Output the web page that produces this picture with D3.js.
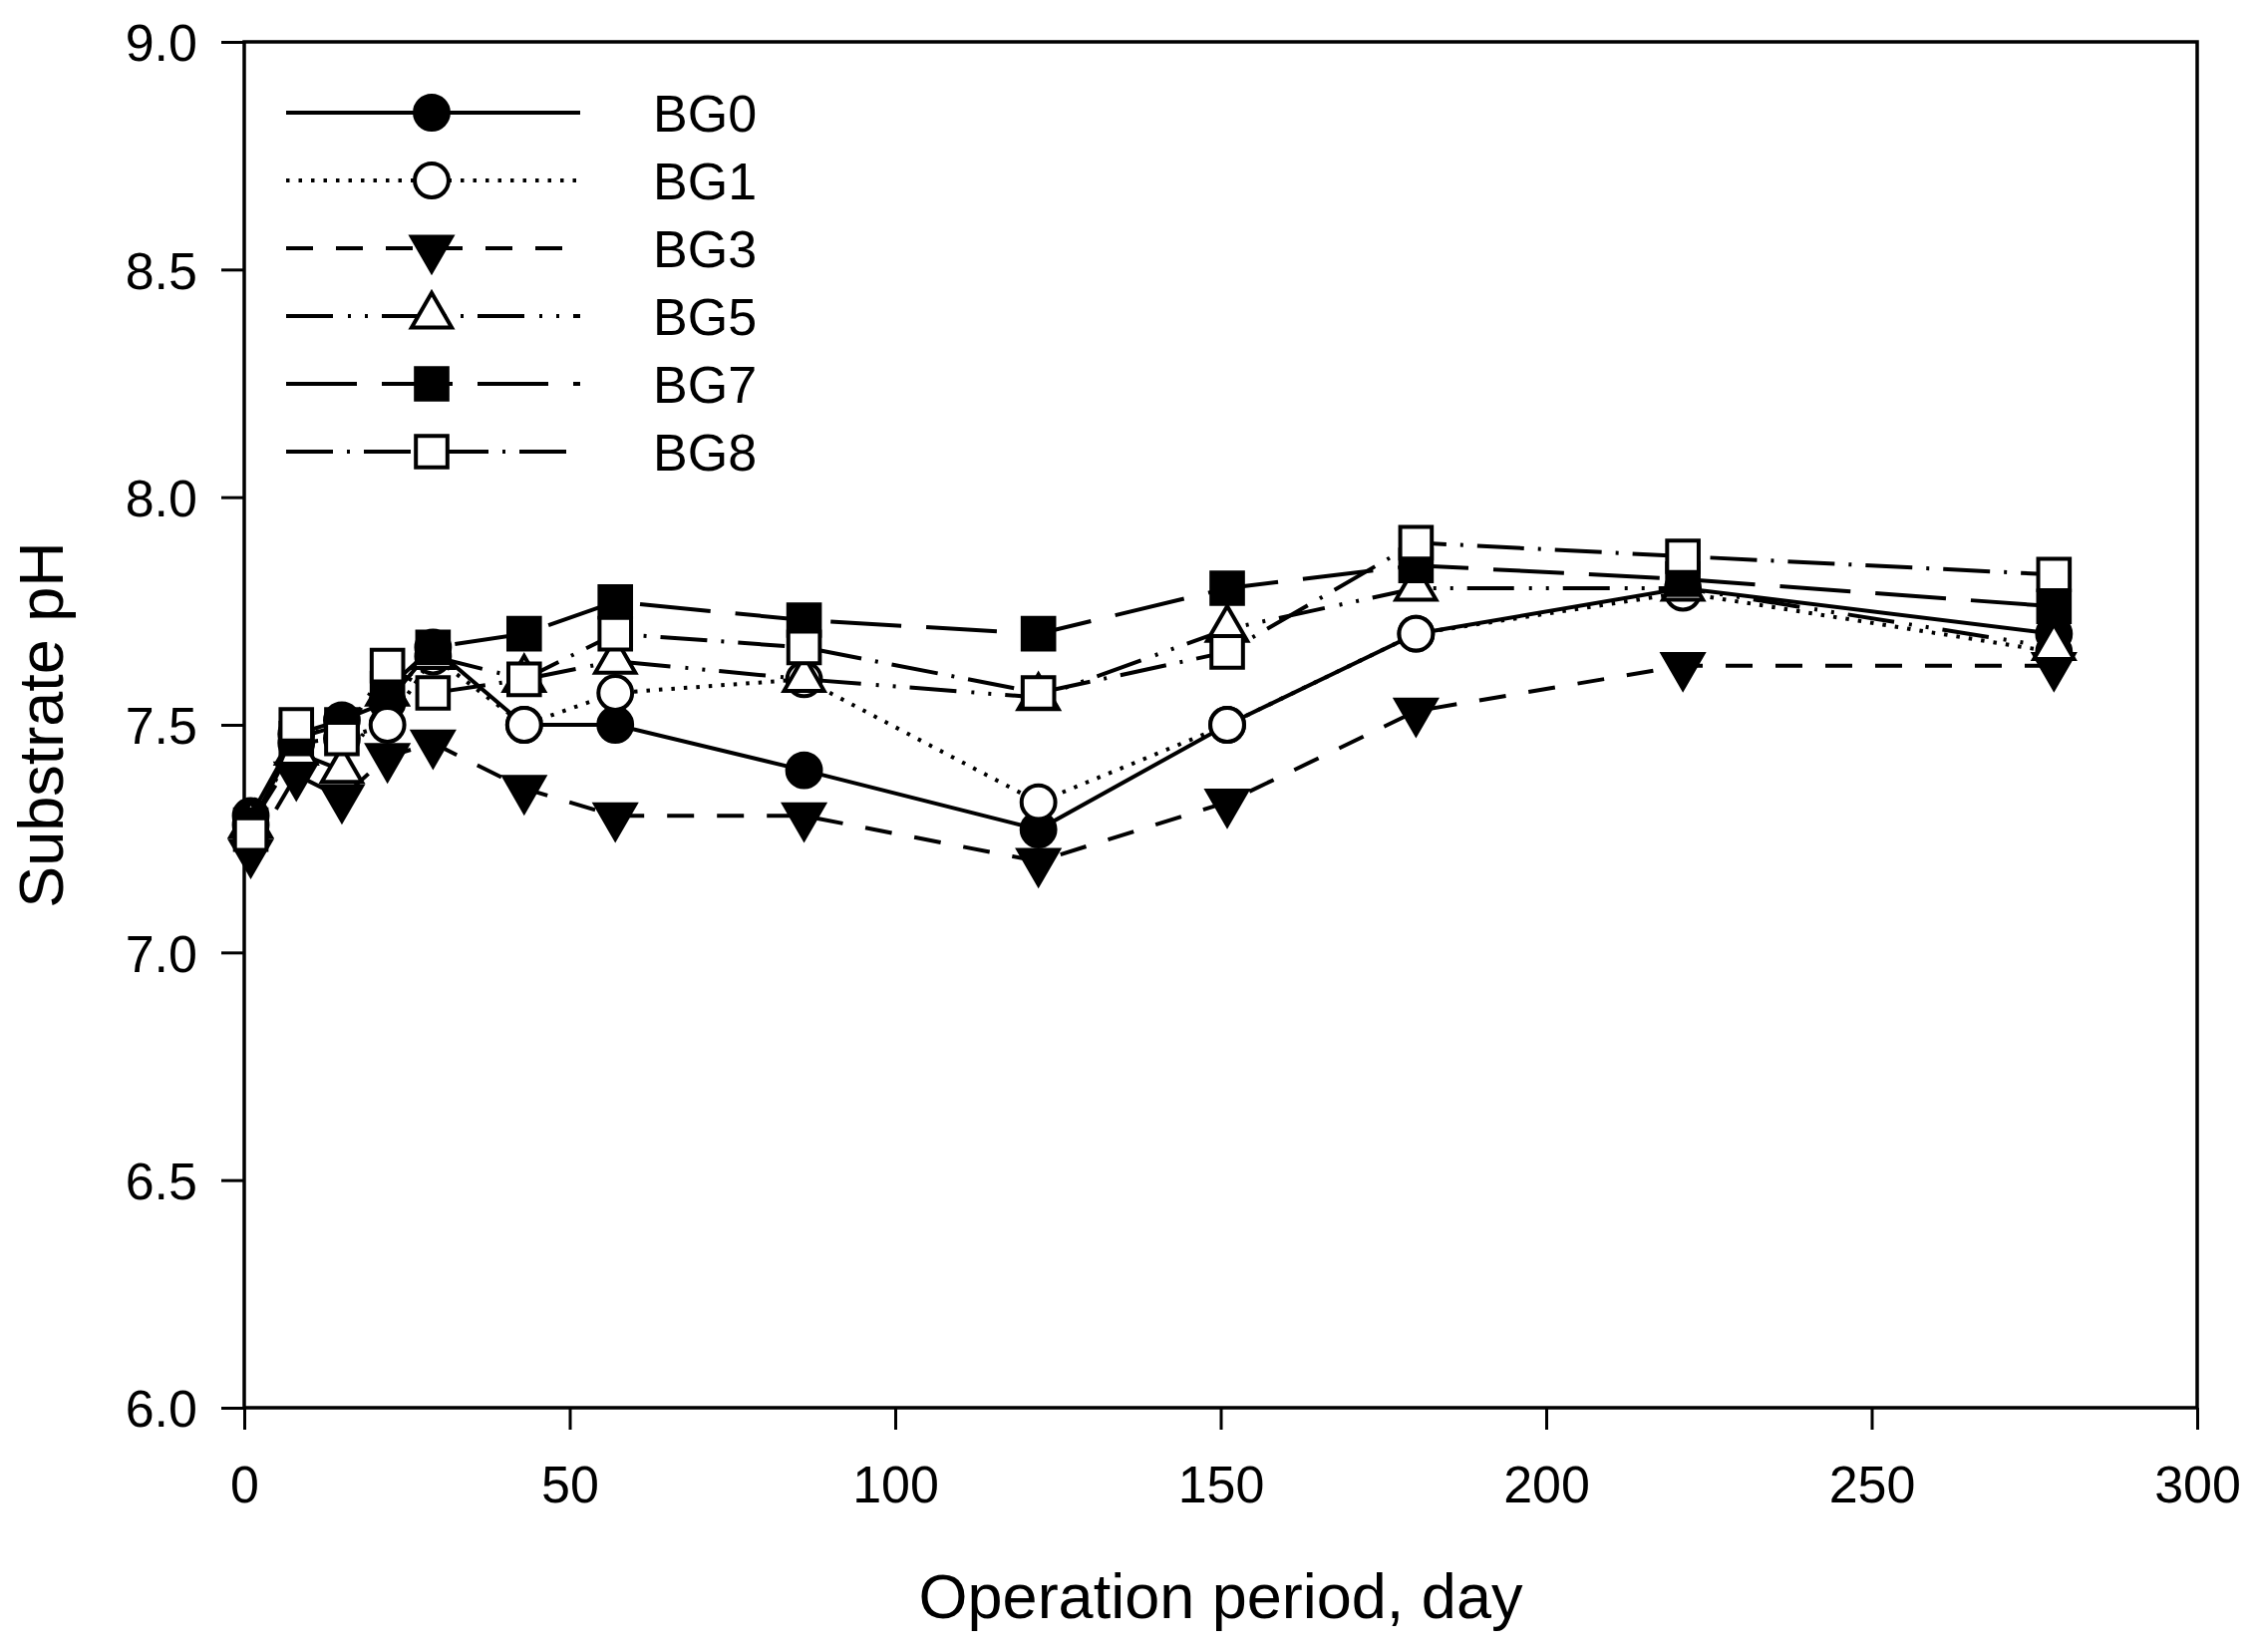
<!DOCTYPE html>
<html>
<head>
<meta charset="utf-8">
<script src="https://cdn.jsdelivr.net/npm/d3@7"></script>
<style>
  body { margin: 0; background: #fff; }
  text { font-family: "Liberation Sans", Arial, sans-serif; fill: #000; }
</style>
</head>
<body>
<svg id="chart" width="2259" height="1657"></svg>
<script>
// operation day of each sampling
var days = [1, 8, 15, 22, 29, 43, 57, 86, 122, 151, 180, 221, 278];

// substrate pH per bed
var bg0 = [7.30, 7.48, 7.51, 7.55, 7.67, 7.50, 7.50, 7.40, 7.27, 7.50, 7.70, 7.80, 7.70];
var bg1 = [7.28, 7.46, 7.47, 7.50, 7.65, 7.50, 7.57, 7.60, 7.33, 7.50, 7.70, 7.79, 7.66];
var bg3 = [7.22, 7.39, 7.34, 7.43, 7.46, 7.36, 7.30, 7.30, 7.20, 7.33, 7.53, 7.63, 7.63];
var bg5 = [7.28, 7.44, 7.40, 7.57, 7.65, 7.60, 7.64, 7.60, 7.56, 7.71, 7.80, 7.80, 7.67];
var bg7 = [7.28, 7.47, 7.50, 7.58, 7.67, 7.70, 7.77, 7.73, 7.70, 7.80, 7.85, 7.82, 7.76];
var bg8 = [7.26, 7.50, 7.47, 7.63, 7.57, 7.60, 7.70, 7.67, 7.57, 7.66, 7.90, 7.87, 7.83];

var seriesNames = ["BG0", "BG1", "BG3", "BG5", "BG7", "BG8"];
var xTicks = [0, 50, 100, 150, 200, 250, 300];
var yTicks = [6.0, 6.5, 7.0, 7.5, 8.0, 8.5, 9.0];

var series = [
    { values: bg0, symbol: d3.symbolCircle, size: 900, fill: "#000", rot: 0, dash: null },
    { values: bg1, symbol: d3.symbolCircle, size: 900, fill: "#fff", rot: 0, dash: "3.5,9" },
    { values: bg3, symbol: d3.symbolTriangle, size: 700, fill: "#000", rot: 180, dash: "27,23" },
    { values: bg5, symbol: d3.symbolTriangle, size: 700, fill: "#fff", rot: 0, dash: "47,15,3,14,3,14" },
    { values: bg7, symbol: d3.symbolSquare, size: 1000, fill: "#000", rot: 0, dash: "71,25" },
    { values: bg8, symbol: d3.symbolSquare, size: 1000, fill: "#fff", rot: 0, dash: "47,14,3,14" }
];

var plotLeft = 245, plotRight = 2204, plotTop = 42, plotBottom = 1412;

var svg = d3.select("#chart");

var x = d3.scaleLinear().domain([0, 300]).range([plotLeft, plotRight]);
var y = d3.scaleLinear().domain([6, 9]).range([plotBottom, plotTop]);

// frame
svg.append("rect")
    .attr("x", plotLeft).attr("y", plotTop)
    .attr("width", plotRight - plotLeft).attr("height", plotBottom - plotTop)
    .attr("fill", "none").attr("stroke", "#000").attr("stroke-width", 3.5);

// axes
var xAxis = svg.append("g")
    .attr("transform", `translate(0,${plotBottom})`)
    .call(d3.axisBottom(x).tickValues(xTicks).tickSize(22).tickSizeOuter(0).tickPadding(36).tickFormat(d3.format("d")));
var yAxis = svg.append("g")
    .attr("transform", `translate(${plotLeft},0)`)
    .call(d3.axisLeft(y).tickValues(yTicks).tickSize(23).tickSizeOuter(0).tickPadding(24).tickFormat(d3.format(".1f")));

[xAxis, yAxis].forEach(function (g) {
    g.select(".domain").remove();
    g.selectAll("line").attr("stroke", "#000").attr("stroke-width", 3);
    g.selectAll("text")
        .attr("font-size", 52)
        .attr("font-family", "Liberation Sans, Arial, sans-serif")
        .attr("fill", "#000");
});
yAxis.selectAll("text").attr("dy", "0.36em");

// axis titles
svg.append("text")
    .attr("x", (plotLeft + plotRight) / 2).attr("y", 1623)
    .attr("text-anchor", "middle")
    .attr("font-size", 63)
    .text("Operation period, day");
svg.append("text")
    .attr("transform", `translate(63,${(plotTop + plotBottom) / 2}) rotate(-90)`)
    .attr("text-anchor", "middle")
    .attr("font-size", 63)
    .text("Substrate pH");

// lines and markers
var line = d3.line()
    .x(function (d) { return x(d[0]); })
    .y(function (d) { return y(d[1]); });

series.forEach(function (s) {
    var pts = days.map(function (d, i) { return [d, s.values[i]]; });
    var g = svg.append("g").attr("class", "series");
    g.append("path")
        .datum(pts)
        .attr("d", line)
        .attr("fill", "none")
        .attr("stroke", "#000")
        .attr("stroke-width", 4)
        .attr("stroke-dasharray", s.dash);
    g.selectAll(".mk")
        .data(pts)
        .enter().append("path")
        .attr("class", "mk")
        .attr("d", d3.symbol().type(s.symbol).size(s.size))
        .attr("transform", function (d) {
            return `translate(${x(d[0])},${y(d[1])}) rotate(${s.rot})`;
        })
        .attr("fill", s.fill)
        .attr("stroke", "#000")
        .attr("stroke-width", 4);
});

// legend
var legend = svg.append("g");
var rowY = d3.scaleLinear().domain([0, 5]).range([113, 453]);
series.forEach(function (s, i) {
    var yy = rowY(i);
    legend.append("line")
        .attr("x1", 287).attr("x2", 582)
        .attr("y1", yy).attr("y2", yy)
        .attr("stroke", "#000").attr("stroke-width", 4)
        .attr("stroke-dasharray", s.dash);
    legend.append("path")
        .attr("d", d3.symbol().type(s.symbol).size(s.size))
        .attr("transform", `translate(433,${yy}) rotate(${s.rot})`)
        .attr("fill", s.fill)
        .attr("stroke", "#000")
        .attr("stroke-width", 4);
    legend.append("text")
        .attr("x", 655).attr("y", yy)
        .attr("dy", "0.36em")
        .attr("font-size", 52)
        .text(seriesNames[i]);
});
</script>
</body>
</html>
